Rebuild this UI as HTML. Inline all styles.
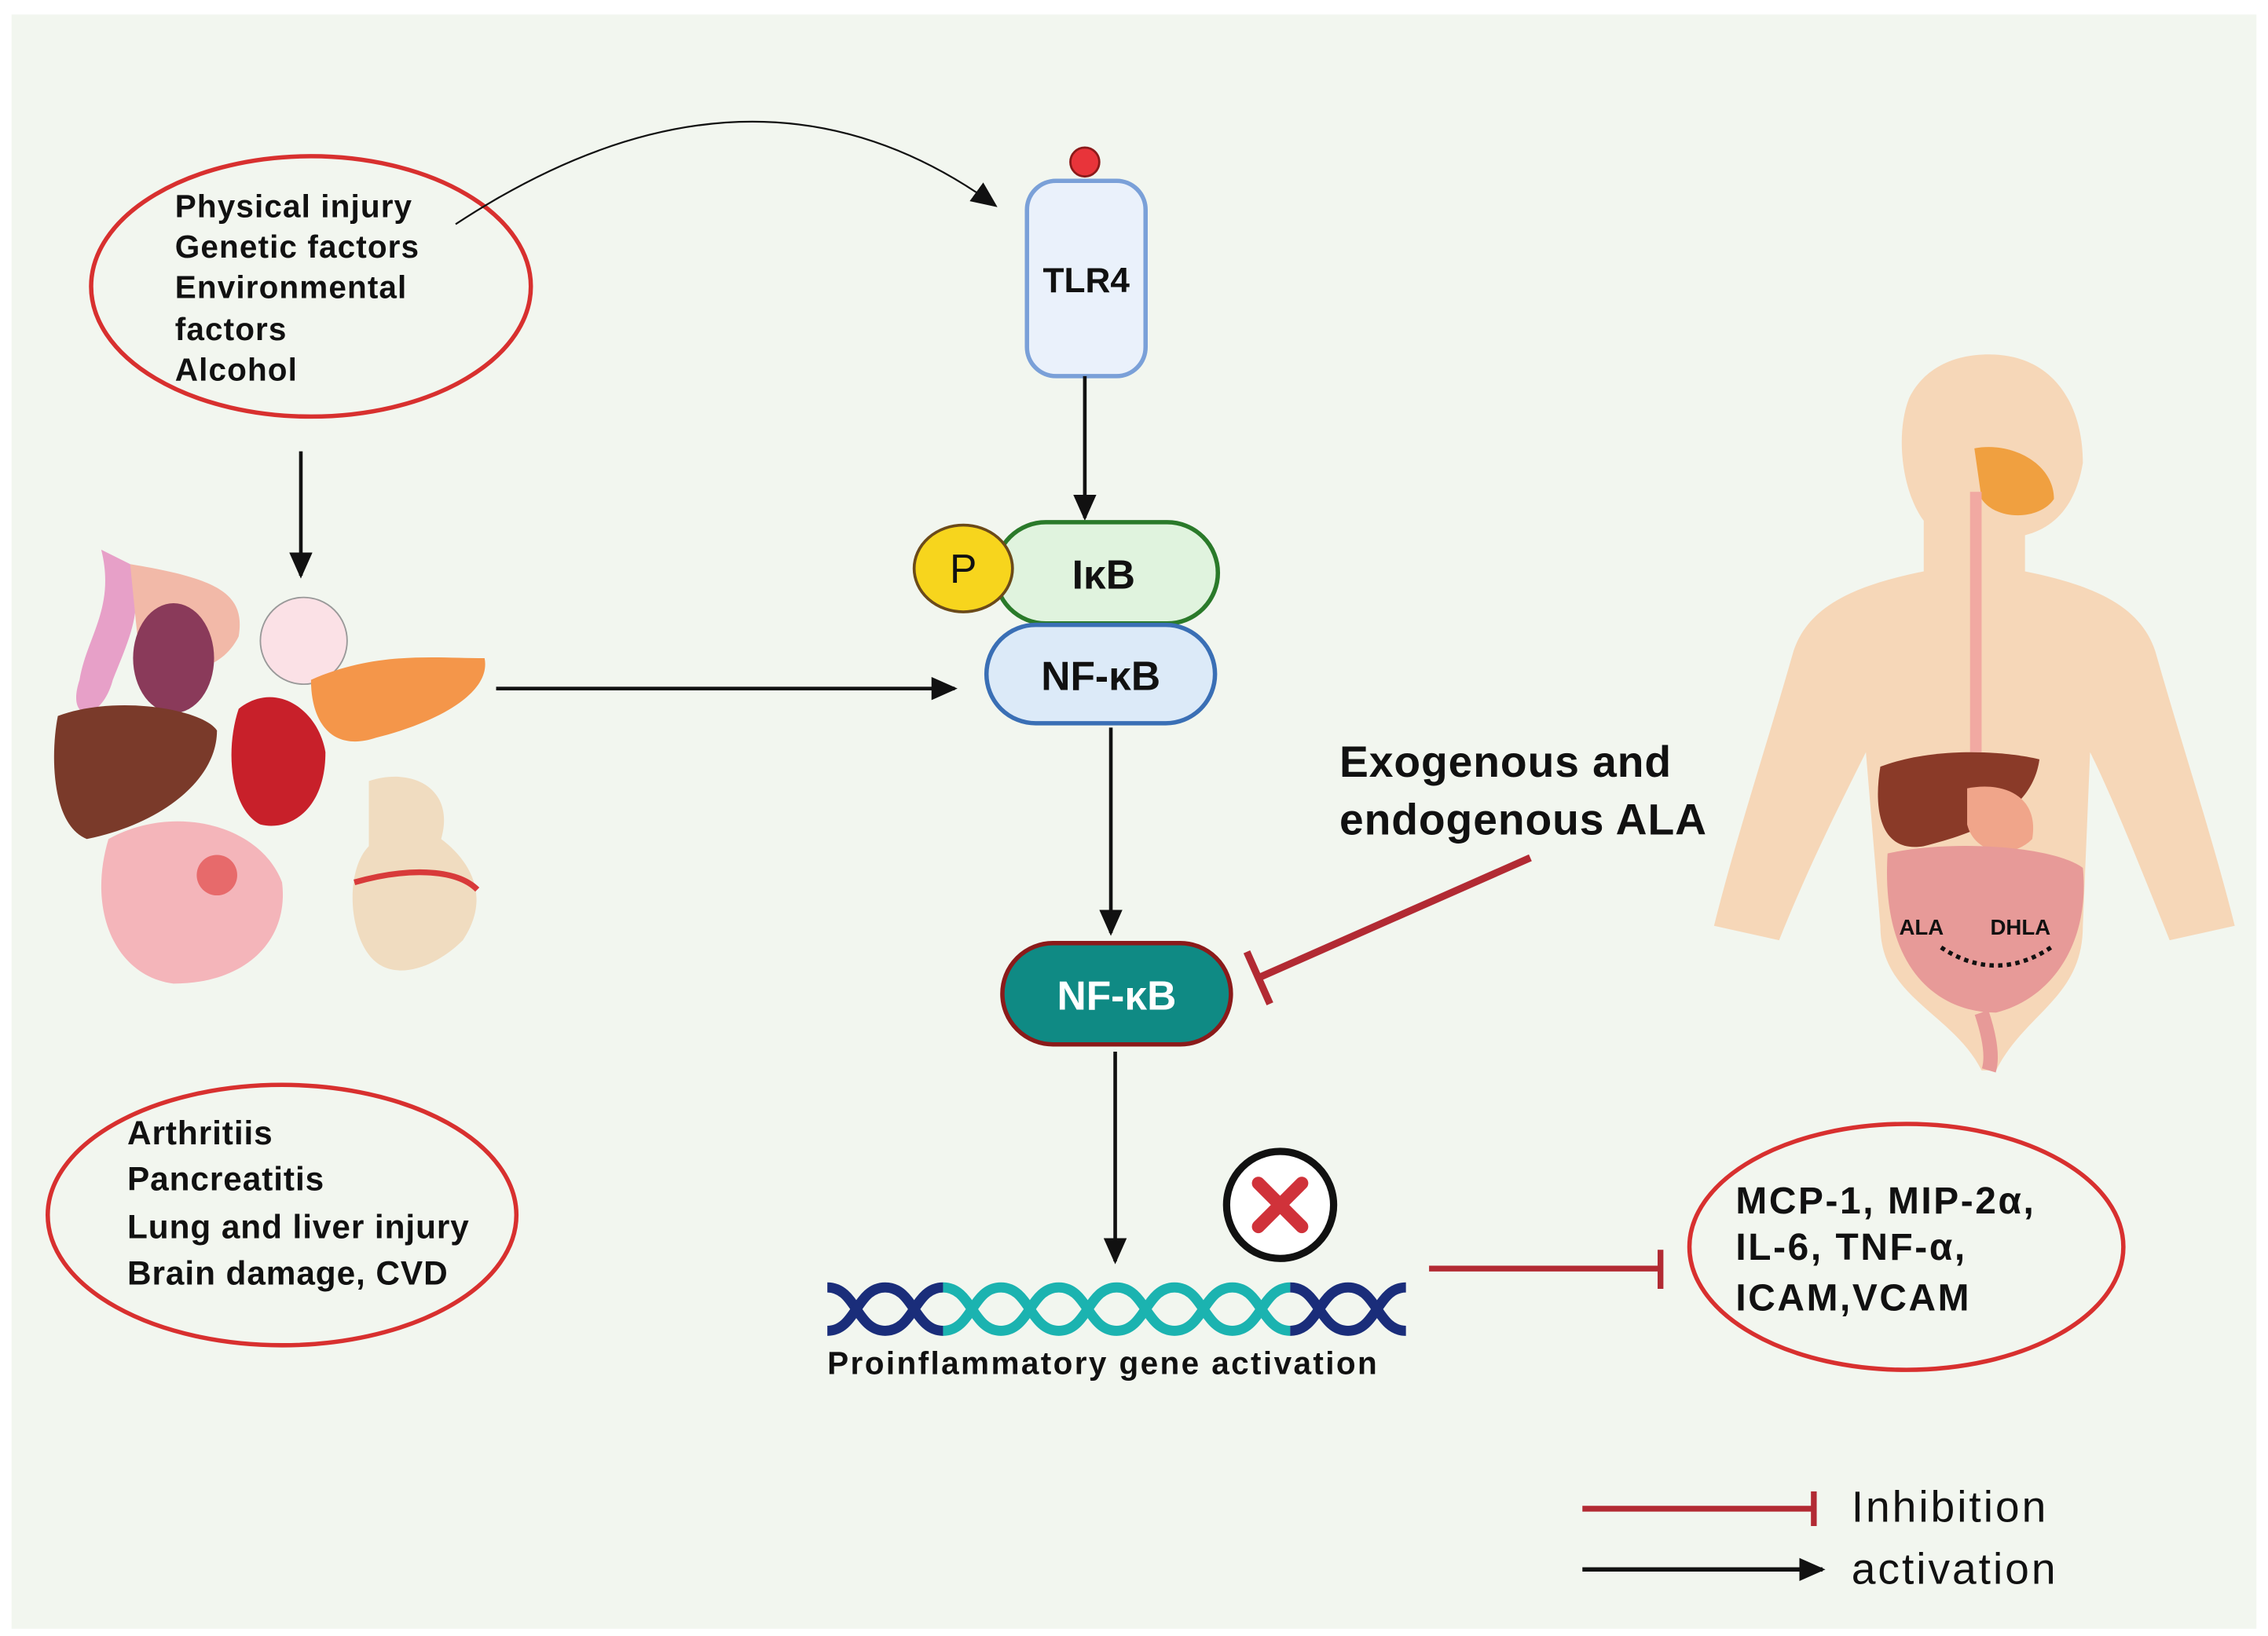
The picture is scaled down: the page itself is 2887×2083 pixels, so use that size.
<!DOCTYPE html>
<html><head><meta charset="utf-8"><style>
html,body{margin:0;padding:0;background:#fff}
svg{display:block}
text{font-family:"Liberation Sans",sans-serif}
</style></head><body>
<svg width="2887" height="2083" viewBox="0 0 1568 1131" preserveAspectRatio="none" xmlns="http://www.w3.org/2000/svg">
<defs>
<marker id="ah2" markerWidth="18" markerHeight="16" refX="16" refY="8" orient="auto" markerUnits="userSpaceOnUse"><path d="M0,0 L18,8 L0,16 z" fill="#111"/></marker>
</defs>
<rect x="0" y="0" width="1568" height="1131" fill="#fff"/>
<rect x="8" y="10" width="1552" height="1116" fill="#f2f6ef"/>

<ellipse cx="215" cy="198" rx="152" ry="90" fill="none" stroke="#d8302f" stroke-width="3"/>
<g font-weight="bold" font-size="22" fill="#111" letter-spacing="0.6">
<text x="121" y="150">Physical injury</text>
<text x="121" y="178">Genetic factors</text>
<text x="121" y="206">Environmental</text>
<text x="121" y="235">factors</text>
<text x="121" y="263">Alcohol</text>
</g>
<path d="M315,155 Q520,20 688,142" fill="none" stroke="#111" stroke-width="1.2" marker-end="url(#ah2)"/>
<line x1="208" y1="312" x2="208" y2="398" stroke="#111" stroke-width="2.5" marker-end="url(#ah2)"/>

<g>
<path d="M70,380 C80,420 60,440 55,470 C45,500 70,500 78,470 C90,440 100,420 90,390 Z" fill="#e7a0c8"/>
<path d="M90,390 C150,400 170,410 165,440 C150,470 110,470 95,440 Z" fill="#f2b9a8"/>
<ellipse cx="120" cy="455" rx="28" ry="38" fill="#8a3a5a"/>
<circle cx="210" cy="443" r="30" fill="#fbe1e6" stroke="#999" stroke-width="1"/>
<path d="M215,470 C260,450 300,455 335,455 C340,480 300,500 260,510 C230,520 215,500 215,470 Z" fill="#f4964a"/>
<path d="M40,495 C80,480 140,490 150,505 C150,540 110,570 60,580 C35,570 35,520 40,495 Z" fill="#7a3a2a"/>
<path d="M165,490 C190,470 220,490 225,520 C225,560 200,575 180,570 C160,560 155,520 165,490 Z" fill="#c8202a"/>
<path d="M75,580 C120,555 180,570 195,610 C200,650 170,680 120,680 C80,675 60,630 75,580 Z" fill="#f4b5ba"/>
<circle cx="150" cy="605" r="14" fill="#e14a4a" opacity="0.7"/>
<path d="M255,540 C285,530 315,545 305,580 C325,595 340,620 320,650 C300,670 270,680 255,660 C240,640 240,600 255,585 Z" fill="#f0dcc0"/>
<path d="M245,610 C280,600 315,600 330,615" fill="none" stroke="#d83a3a" stroke-width="4"/>
</g>
<line x1="343" y1="476" x2="660" y2="476" stroke="#111" stroke-width="2.5" marker-end="url(#ah2)"/>

<circle cx="750" cy="112" r="10" fill="#e8343a" stroke="#8a1a1a" stroke-width="1.5"/>
<rect x="710" y="125" width="82" height="135" rx="20" fill="#eaf1fb" stroke="#7aa0d8" stroke-width="3"/>
<text x="751" y="202" text-anchor="middle" font-weight="bold" font-size="24" fill="#111">TLR4</text>
<line x1="750" y1="260" x2="750" y2="358" stroke="#111" stroke-width="2.5" marker-end="url(#ah2)"/>

<rect x="688" y="361" width="154" height="70" rx="35" fill="#e0f3de" stroke="#2a7a2a" stroke-width="3"/>
<text x="763" y="407" text-anchor="middle" font-weight="bold" font-size="28" fill="#111">IκB</text>
<ellipse cx="666" cy="393" rx="34" ry="30" fill="#f7d51d" stroke="#6b4a1a" stroke-width="2"/>
<text x="666" y="403" text-anchor="middle" font-size="28" fill="#111">P</text>
<rect x="682" y="432" width="158" height="68" rx="34" fill="#dceaf8" stroke="#3a6fb5" stroke-width="3"/>
<text x="761" y="477" text-anchor="middle" font-weight="bold" font-size="28" fill="#111">NF-κB</text>
<line x1="768" y1="503" x2="768" y2="645" stroke="#111" stroke-width="2.5" marker-end="url(#ah2)"/>

<rect x="693" y="652" width="158" height="70" rx="35" fill="#0f8a84" stroke="#8b1a1a" stroke-width="3"/>
<text x="772" y="698" text-anchor="middle" font-weight="bold" font-size="28" fill="#fff">NF-κB</text>

<g font-weight="bold" font-size="30" fill="#111" letter-spacing="0.5">
<text x="926" y="537">Exogenous and</text>
<text x="926" y="577">endogenous ALA</text>
</g>
<line x1="1058" y1="593" x2="870" y2="676" stroke="#b22a33" stroke-width="5"/>
<line x1="862" y1="658" x2="878" y2="694" stroke="#b22a33" stroke-width="5"/>

<line x1="771" y1="727" x2="771" y2="872" stroke="#111" stroke-width="2.5" marker-end="url(#ah2)"/>

<circle cx="885" cy="833" r="37" fill="#fff" stroke="#111" stroke-width="5"/>
<path d="M870,818 L900,848 M900,818 L870,848" stroke="#d0323a" stroke-width="9" stroke-linecap="round"/>

<g fill="none" stroke-width="7">
<path d="M572,890 C592,890 592,920 612,920 C632,920 632,890 652,890" stroke="#1a2d7a"/>
<path d="M572,920 C592,920 592,890 612,890 C632,890 632,920 652,920" stroke="#1a2d7a"/>
<path d="M652,890 C672,890 672,920 692,920 C712,920 712,890 732,890 C752,890 752,920 772,920 C792,920 792,890 812,890 C832,890 832,920 852,920 C872,920 872,890 892,890" stroke="#1bb3b0"/>
<path d="M652,920 C672,920 672,890 692,890 C712,890 712,920 732,920 C752,920 752,890 772,890 C792,890 792,920 812,920 C832,920 832,890 852,890 C872,890 872,920 892,920" stroke="#1bb3b0"/>
<path d="M892,890 C912,890 912,920 932,920 C952,920 952,890 972,890" stroke="#1a2d7a"/>
<path d="M892,920 C912,920 912,890 932,890 C952,890 952,920 972,920" stroke="#1a2d7a"/>
</g>
<text x="572" y="950" font-weight="bold" font-size="22" fill="#111" letter-spacing="1.3">Proinflammatory gene activation</text>

<line x1="988" y1="877" x2="1148" y2="877" stroke="#b22a33" stroke-width="4"/>
<line x1="1148" y1="864" x2="1148" y2="891" stroke="#b22a33" stroke-width="4"/>

<ellipse cx="1318" cy="862" rx="150" ry="85" fill="none" stroke="#d8302f" stroke-width="3"/>
<g font-weight="bold" font-size="26" fill="#111" letter-spacing="1.4">
<text x="1200" y="839">MCP-1, MIP-2α,</text>
<text x="1200" y="871">IL-6, TNF-α,</text>
<text x="1200" y="906">ICAM,VCAM</text>
</g>

<ellipse cx="195" cy="840" rx="162" ry="90" fill="none" stroke="#d8302f" stroke-width="3"/>
<g font-weight="bold" font-size="23" fill="#111" letter-spacing="0.5">
<text x="88" y="791">Arthritiis</text>
<text x="88" y="823">Pancreatitis</text>
<text x="88" y="856">Lung and liver injury</text>
<text x="88" y="888">Brain damage, CVD</text>
</g>

<g>
<path d="M1375,245 C1420,245 1440,280 1440,320 C1435,350 1420,365 1400,370 L1400,395 C1450,405 1480,420 1490,450 C1510,520 1530,580 1545,640 L1500,650 C1480,600 1460,550 1445,520 L1440,640 C1440,690 1400,700 1380,740 L1370,740 C1350,700 1300,690 1300,640 L1290,520 C1270,560 1250,600 1230,650 L1185,640 C1200,580 1220,520 1240,450 C1250,420 1280,405 1330,395 L1330,360 C1315,340 1310,300 1320,275 C1330,255 1350,245 1375,245 Z" fill="#f6d7b8"/>
<path d="M1365,310 C1390,305 1420,320 1420,345 C1410,360 1380,360 1370,345 Z" fill="#f0a040"/>
<rect x="1362" y="340" width="8" height="180" fill="#f1a9a2"/>
<path d="M1300,530 C1340,515 1390,520 1410,525 C1405,560 1370,575 1330,585 C1300,590 1295,560 1300,530 Z" fill="#8a3a28"/>
<path d="M1360,545 C1385,540 1410,550 1405,580 C1390,595 1365,590 1360,570 Z" fill="#f0a58a"/>
<path d="M1305,590 C1350,580 1420,585 1440,600 C1445,650 1420,690 1380,700 C1340,700 1300,670 1305,590 Z" fill="#e79a98"/>
<path d="M1370,700 C1375,715 1378,730 1375,740" stroke="#e79a98" stroke-width="10" fill="none"/>
<text x="1313" y="646" font-weight="bold" font-size="15" fill="#111">ALA</text>
<text x="1376" y="646" font-weight="bold" font-size="15" fill="#111">DHLA</text>
<path d="M1342,655 Q1380,680 1418,655" fill="none" stroke="#111" stroke-width="3" stroke-dasharray="3,3"/>
</g>

<line x1="1094" y1="1043" x2="1254" y2="1043" stroke="#b22a33" stroke-width="4"/>
<line x1="1254" y1="1031" x2="1254" y2="1055" stroke="#b22a33" stroke-width="4"/>
<text x="1280" y="1052" font-size="30" fill="#111" letter-spacing="1.6">Inhibition</text>
<line x1="1094" y1="1085" x2="1260" y2="1085" stroke="#111" stroke-width="3" marker-end="url(#ah2)"/>
<text x="1280" y="1095" font-size="30" fill="#111" letter-spacing="1.6">activation</text>
</svg>
</body></html>
